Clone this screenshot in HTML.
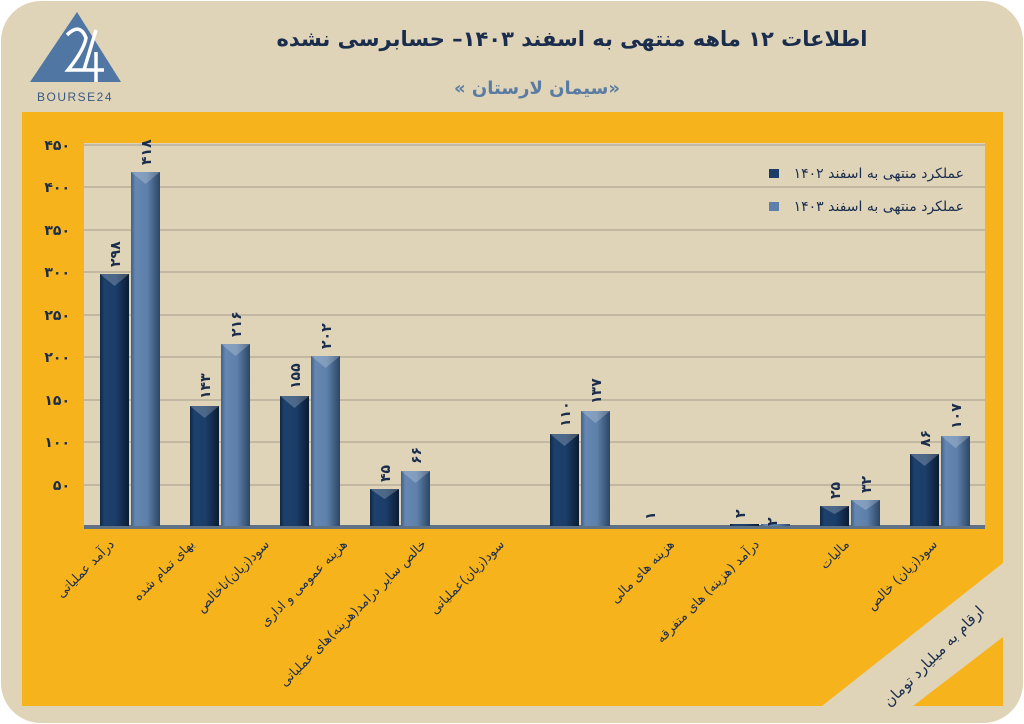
<!DOCTYPE html>
<html><head><meta charset="utf-8"><style>
html,body{margin:0;padding:0;background:#fff;}
svg{display:block;font-family:"Liberation Sans","DejaVu Sans",sans-serif;}
</style></head><body>
<svg width="1024" height="724" viewBox="0 0 1024 724" xmlns="http://www.w3.org/2000/svg">
<defs>
<linearGradient id="gd" x1="0" x2="1" y1="0" y2="0">
<stop offset="0" stop-color="#0f2744"/><stop offset="0.15" stop-color="#1d416d"/><stop offset="0.55" stop-color="#1b3d68"/><stop offset="1" stop-color="#0b1c33"/></linearGradient>
<linearGradient id="gl" x1="0" x2="1" y1="0" y2="0">
<stop offset="0" stop-color="#3f5f86"/><stop offset="0.15" stop-color="#6587b1"/><stop offset="0.55" stop-color="#5d80aa"/><stop offset="1" stop-color="#2c4566"/></linearGradient>
</defs>
<rect x="1" y="1" width="1022" height="722" rx="40" fill="#dfd4b8"/>
<!-- logo -->
<polygon points="77,12 30,82 121,82" fill="#5077a3"/>
<path d="M67,35 Q80,22 86,38 Q84,50 68,70 L90,70 M96,30 L84,70 L104,70 M96,52 L96,82" stroke="#fff" stroke-width="3.5" fill="none"/>
<text x="75" y="101" text-anchor="middle" font-size="12" fill="#3a5a82" letter-spacing="1.5">BOURSE24</text>
<!-- titles -->
<text x="572" y="46" text-anchor="middle" font-size="21" font-weight="bold" fill="#1a2d4d" font-family="'DejaVu Sans',sans-serif">اطلاعات ۱۲ ماهه منتهی به اسفند ۱۴۰۳– حسابرسی نشده</text>
<text x="537" y="94" text-anchor="middle" font-size="18" font-weight="bold" fill="#5a7ca2" font-family="'DejaVu Sans',sans-serif">« سیمان لارستان»</text>
<!-- orange panel -->
<rect x="22" y="112" width="981" height="594" fill="#f7b31b"/>
<polygon points="1003,563 1003,637 913,706 822,706" fill="#dfd4b8"/>
<!-- plot area -->
<rect x="84" y="143" width="901" height="384" fill="#dfd4b8"/>
<g stroke="#b1a793" stroke-width="1.2">
<line x1="84" y1="145" x2="985" y2="145"/><line x1="84" y1="187" x2="985" y2="187"/><line x1="84" y1="230" x2="985" y2="230"/><line x1="84" y1="272" x2="985" y2="272"/><line x1="84" y1="315" x2="985" y2="315"/><line x1="84" y1="357" x2="985" y2="357"/><line x1="84" y1="400" x2="985" y2="400"/><line x1="84" y1="442" x2="985" y2="442"/><line x1="84" y1="485" x2="985" y2="485"/>
</g>
<rect x="84" y="525" width="901" height="4" fill="#5f7183"/>
<!-- y labels -->
<g font-size="14" font-weight="bold" fill="#1a2d4d" text-anchor="end" font-family="'DejaVu Sans',sans-serif">
<text x="70" y="150">۴۵۰</text><text x="70" y="192">۴۰۰</text><text x="70" y="235">۳۵۰</text><text x="70" y="277">۳۰۰</text><text x="70" y="320">۲۵۰</text><text x="70" y="362">۲۰۰</text><text x="70" y="405">۱۵۰</text><text x="70" y="447">۱۰۰</text><text x="70" y="490">۵۰</text>
</g>
<!-- bars -->
<g>
<rect x="100" y="274" width="29" height="252" fill="url(#gd)"/><rect x="131" y="172" width="29" height="354" fill="url(#gl)"/>
<rect x="190" y="406" width="29" height="120" fill="url(#gd)"/><rect x="221" y="344" width="29" height="182" fill="url(#gl)"/>
<rect x="280" y="396" width="29" height="130" fill="url(#gd)"/><rect x="311" y="356" width="29" height="170" fill="url(#gl)"/>
<rect x="370" y="489" width="29" height="37" fill="url(#gd)"/><rect x="401" y="471" width="29" height="55" fill="url(#gl)"/>
<rect x="550" y="434" width="29" height="92" fill="url(#gd)"/><rect x="581" y="411" width="29" height="115" fill="url(#gl)"/>
<rect x="730" y="524" width="29" height="2" fill="url(#gd)"/><rect x="761" y="524" width="29" height="2" fill="url(#gl)"/>
<rect x="820" y="506" width="29" height="20" fill="url(#gd)"/><rect x="851" y="500" width="29" height="26" fill="url(#gl)"/>
<rect x="910" y="454" width="29" height="72" fill="url(#gd)"/><rect x="941" y="436" width="29" height="90" fill="url(#gl)"/>
</g>
<!-- bevel triangles -->
<g fill="#ffffff" opacity="0.22">
<polygon points="100,274 129,274 114.5,286"/><polygon points="131,172 160,172 145.5,184"/>
<polygon points="190,406 219,406 204.5,418"/><polygon points="221,344 250,344 235.5,356"/>
<polygon points="280,396 309,396 294.5,408"/><polygon points="311,356 340,356 325.5,368"/>
<polygon points="370,489 399,489 384.5,499"/><polygon points="401,471 430,471 415.5,483"/>
<polygon points="550,434 579,434 564.5,446"/><polygon points="581,411 610,411 595.5,423"/>
<polygon points="820,506 849,506 834.5,514"/><polygon points="851,500 880,500 865.5,510"/>
<polygon points="910,454 939,454 924.5,466"/><polygon points="941,436 970,436 955.5,448"/>
</g>
<!-- value labels -->
<g font-size="14" font-weight="bold" fill="#1a2d4d" font-family="'DejaVu Sans',sans-serif">
<text transform="translate(120,267) rotate(-90)">۲۹۸</text>
<text transform="translate(151,165) rotate(-90)">۴۱۸</text>
<text transform="translate(210,399) rotate(-90)">۱۴۳</text>
<text transform="translate(241,337) rotate(-90)">۲۱۶</text>
<text transform="translate(300,389) rotate(-90)">۱۵۵</text>
<text transform="translate(331,349) rotate(-90)">۲۰۲</text>
<text transform="translate(390,482) rotate(-90)">۴۵</text>
<text transform="translate(421,464) rotate(-90)">۶۶</text>
<text transform="translate(570,427) rotate(-90)">۱۱۰</text>
<text transform="translate(601,404) rotate(-90)">۱۳۷</text>
<text transform="translate(655,520) rotate(-90)">۱</text>
<text transform="translate(745,518) rotate(-90)">۲</text>
<text transform="translate(777,526) rotate(-90)">۲</text>
<text transform="translate(840,499) rotate(-90)">۲۵</text>
<text transform="translate(871,493) rotate(-90)">۳۲</text>
<text transform="translate(930,447) rotate(-90)">۸۶</text>
<text transform="translate(961,429) rotate(-90)">۱۰۷</text>
</g>
<!-- category labels -->
<g font-size="13" fill="#1a2d4d" text-anchor="end" font-family="'DejaVu Sans',sans-serif">
<text transform="translate(115,545) rotate(-45)">درآمد عملیاتی</text>
<text transform="translate(195,545) rotate(-45)">بهای تمام شده</text>
<text transform="translate(270,545) rotate(-45)">سود(زیان)ناخالص</text>
<text transform="translate(348,545) rotate(-45)">هزینه عمومی و اداری</text>
<text transform="translate(427,545) rotate(-45)">خالص سایر درامد(هزینه)های عملیاتی</text>
<text transform="translate(505,545) rotate(-45)">سود(زیان)عملیاتی</text>
<text transform="translate(675,545) rotate(-45)">هزینه های مالی</text>
<text transform="translate(760,545) rotate(-45)">درآمد (هزینه) های متفرقه</text>
<text transform="translate(850,545) rotate(-45)">مالیات</text>
<text transform="translate(938,545) rotate(-45)">سود(زیان) خالص</text>
</g>
<text transform="translate(985,612) rotate(-45)" text-anchor="end" font-size="15" fill="#1a2d4d" font-family="'DejaVu Sans',sans-serif">ارقام به میلیارد تومان</text>
<!-- legend -->
<rect x="769" y="169" width="10" height="9" fill="#1b3d68"/>
<rect x="769" y="202" width="10" height="9" fill="#5d80aa"/>
<g font-size="14" fill="#1a2d4d" text-anchor="end" font-family="'DejaVu Sans',sans-serif">
<text x="964" y="178">عملکرد منتهی به اسفند ۱۴۰۲</text>
<text x="964" y="211">عملکرد منتهی به اسفند ۱۴۰۳</text>
</g>
</svg>
</body></html>
